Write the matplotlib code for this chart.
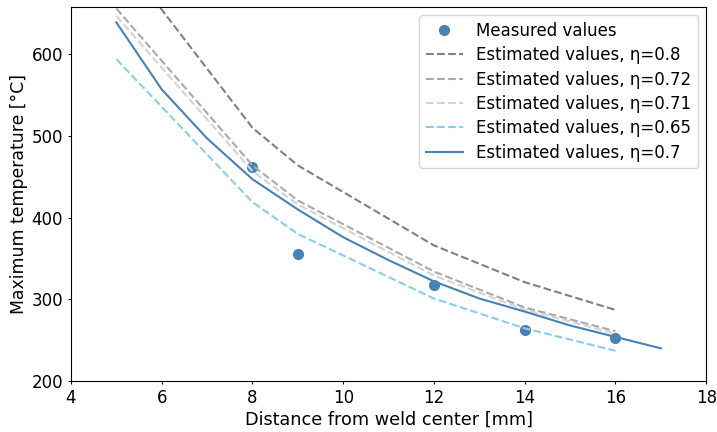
import matplotlib
matplotlib.use("Agg")
import matplotlib.pyplot as plt

# Measured peak temperatures
meas_x = [8, 9, 12, 14, 16]
meas_y = [462, 356, 317, 262, 253]

# Estimated peak temperatures for several efficiencies
est_x = [5, 8, 9, 12, 14, 16]
est_08 = [727, 510, 464, 366, 321, 287]
est_072 = [656, 464, 421, 334, 290, 261]
est_071 = [647, 457, 416, 329, 287.5, 258]
est_065 = [594, 419, 380, 301, 264.5, 237]

fit_x = [5, 6, 7, 8, 9, 10, 11, 12, 13, 14, 15, 16, 17]
fit_07 = [639, 557, 497, 447, 410, 376, 348, 322, 301, 285, 268, 254, 240]

fig = plt.figure(figsize=(7.17, 4.32), dpi=100)
ax = fig.add_axes([0.099, 0.118, 0.886, 0.866])

ax.plot(meas_x, meas_y, "o", color="steelblue", markersize=7, label="Measured values")
ax.plot(est_x, est_08, "--", color="gray", lw=1.5, label="Estimated values, η=0.8")
ax.plot(est_x, est_072, "--", color="darkgray", lw=1.5, label="Estimated values, η=0.72")
ax.plot(est_x, est_071, "--", color="lightgray", lw=1.5, label="Estimated values, η=0.71")
ax.plot(est_x, est_065, "--", color="skyblue", lw=1.5, label="Estimated values, η=0.65")
ax.plot(fit_x, fit_07, "-", color="steelblue", lw=1.5, label="Estimated values, η=0.7")

ax.set_xlim(4, 18)
ax.set_ylim(200, 658)
ax.set_xticks([4, 6, 8, 10, 12, 14, 16, 18])
ax.set_yticks([200, 300, 400, 500, 600])
ax.tick_params(labelsize=12, length=2.3)
ax.set_xlabel("Distance from weld center [mm]", fontsize=12.7, labelpad=2.5)
ax.set_ylabel("Maximum temperature [°C]", fontsize=12.4, labelpad=2.5)
ax.legend(loc="upper right", fontsize=12, labelspacing=0.38, handlelength=2.2)

fig.savefig("out.png", dpi=100)
